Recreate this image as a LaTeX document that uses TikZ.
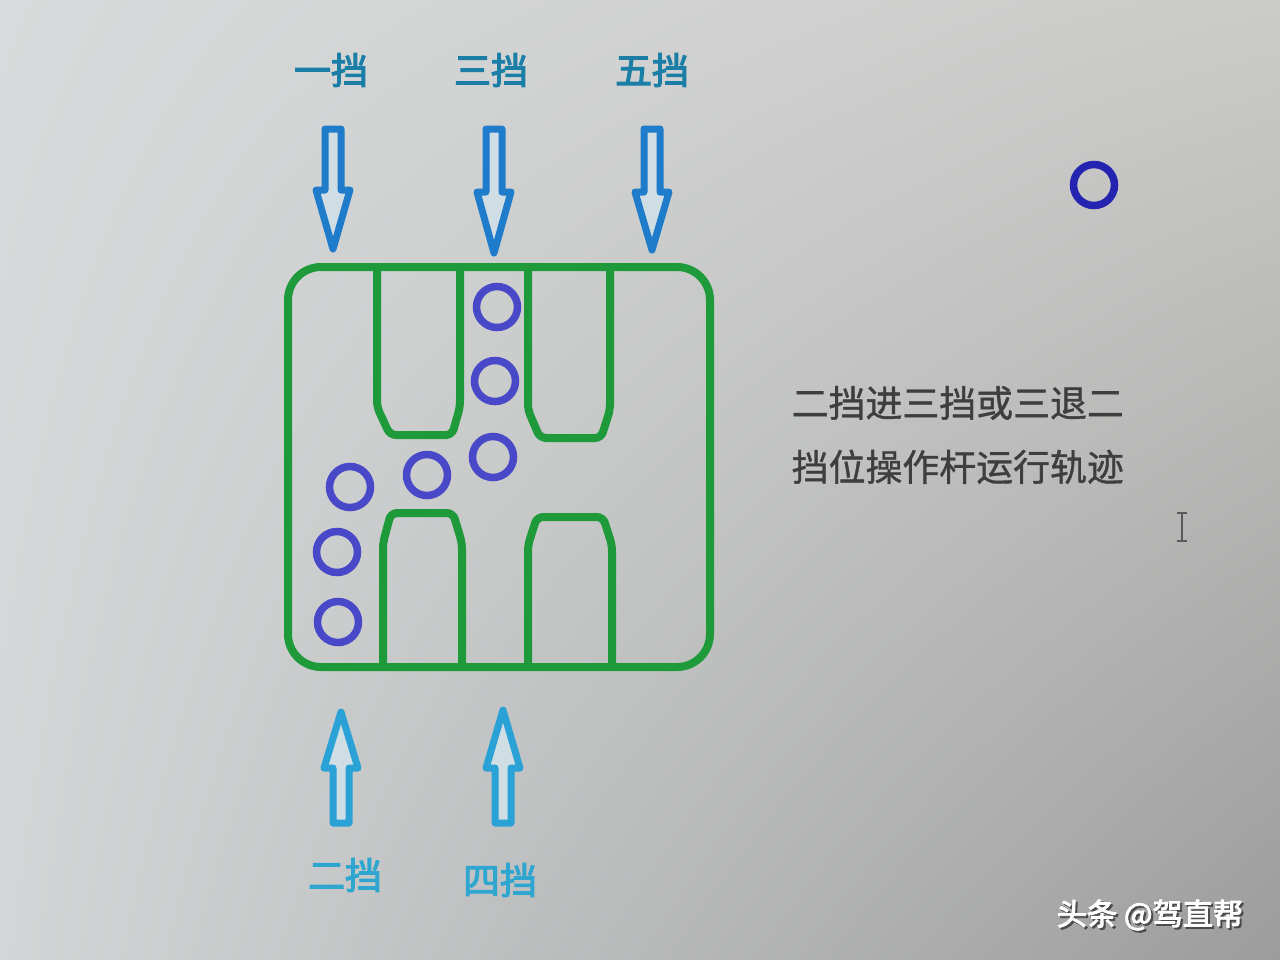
\documentclass[tikz,border=0pt]{standalone}
\usepackage{fontspec}
\usetikzlibrary{shadings}
\newfontfamily\cjk[AutoFakeBold=3]{Noto Sans CJK SC}
\newfontfamily\cjkdesc[FakeBold=1]{Noto Sans CJK SC}
\definecolor{gateGreen}{HTML}{1F9A3A}
\definecolor{ringBlue}{HTML}{4848C8}
\definecolor{ringDark}{HTML}{2424B0}
\definecolor{arrowTop}{HTML}{1E7CCB}
\definecolor{arrowBot}{HTML}{2AA2D6}
\definecolor{labelTop}{HTML}{1A7EA6}
\definecolor{labelBot}{HTML}{2EA6D0}
\definecolor{arrowFill}{HTML}{CFDDE4}
\definecolor{descGray}{HTML}{3E3E3E}
\definecolor{bgUL}{HTML}{D8DADB}
\definecolor{bgUR}{HTML}{CBCBC9}
\definecolor{bgLL}{HTML}{D3D5D6}
\definecolor{bgLR}{HTML}{9C9C9C}

\begin{document}
\begin{tikzpicture}[x=0.1mm,y=-0.1mm,
gear label/.style = {
font=\cjk\bfseries\fontsize{10.5}{12}\selectfont,
inner sep=0pt},
gate/.style  = {
gateGreen,
line width=0.8mm,
line join=round,
rounded corners=0.6mm},
ring/.style  = {
circle,
draw=ringBlue,
line width=0.75mm,
minimum size=4.1mm,
inner sep=0pt},
block arrow/.style = {
line width=0.7mm,
line join=round,
fill=arrowFill}
]
\useasboundingbox (0,0) rectangle (1280,960);
\shade[upper left=bgUL,upper right=bgUR,lower left=bgLL,lower right=bgLR] (0,0) rectangle (1280,960);
%
\node[gear label,text=labelTop] (g1) at (331,70) {一挡};
\node[gear label,text=labelTop] (g3) at (491,70) {三挡};
\node[gear label,text=labelTop] (g5) at (652,70) {五挡};
\node[gear label,text=labelBot] (g2) at (345,875) {二挡};
\node[gear label,text=labelBot] (g4) at (500,880) {四挡};
%
\draw[block arrow,draw=arrowTop] (325,129) -- (341,129) -- (341,190) -- (350,190) -- (333,249) -- (316,190) -- (325,190) -- cycle;
\draw[block arrow,draw=arrowTop] (486,129) -- (502,129) -- (502,192) -- (511,192) -- (494,253) -- (477,192) -- (486,192) -- cycle;
\draw[block arrow,draw=arrowTop] (644,129) -- (660,129) -- (660,192) -- (669,192) -- (652,250) -- (635,192) -- (644,192) -- cycle;
\draw[block arrow,draw=arrowBot] (333,823) -- (349,823) -- (349,768) -- (358,768) -- (341,712) -- (324,768) -- (333,768) -- cycle;
\draw[block arrow,draw=arrowBot] (495,823) -- (511,823) -- (511,768) -- (520,768) -- (503,710) -- (486,768) -- (495,768) -- cycle;
%
\draw[gate,rounded corners=3.3mm] (288,267) rectangle (710,667);
\draw[gate] (377,267) -- (377,407) -- (390,435) -- (452,435) -- (460,407) -- (460,267);
\draw[gate] (528,267) -- (528,410) -- (540,438) -- (601,438) -- (610,410) -- (610,267);
\draw[gate] (383,667) -- (383,543) -- (391,513) -- (453,513) -- (462,543) -- (462,667);
\draw[gate] (528,667) -- (528,545) -- (537,517) -- (603,517) -- (612,545) -- (612,667);
%
\node[ring] (r1) at (497,307) {};
\node[ring] (r2) at (495,381) {};
\node[ring] (r3) at (493,457) {};
\node[ring] (r4) at (427,475) {};
\node[ring] (r5) at (350,487) {};
\node[ring] (r6) at (337,552) {};
\node[ring] (r7) at (338,622) {};
\node[ring,draw=ringDark] (rfree) at (1094,185) {};
%
\node[anchor=west,align=left,text=descGray,inner sep=0pt,
font=\cjkdesc\fontsize{10.5}{18.2}\selectfont] (desc) at (791,435) {二挡进三挡或三退二\\挡位操作杆运行轨迹};
%
\draw[gray!70!black,line width=0.2mm] (1177,513) -- (1187,513) (1182,513) -- (1182,541) (1177,541) -- (1187,541);
%
\node[text=black!70,font=\cjk\bfseries\fontsize{8.6}{10}\selectfont,inner sep=0pt] (wmshadow) at (1152,917) {头条 @驾直帮};
\node[text=white,font=\cjk\bfseries\fontsize{8.6}{10}\selectfont,inner sep=0pt] (wm) at (1150,915) {头条 @驾直帮};
\end{tikzpicture}
\end{document}
